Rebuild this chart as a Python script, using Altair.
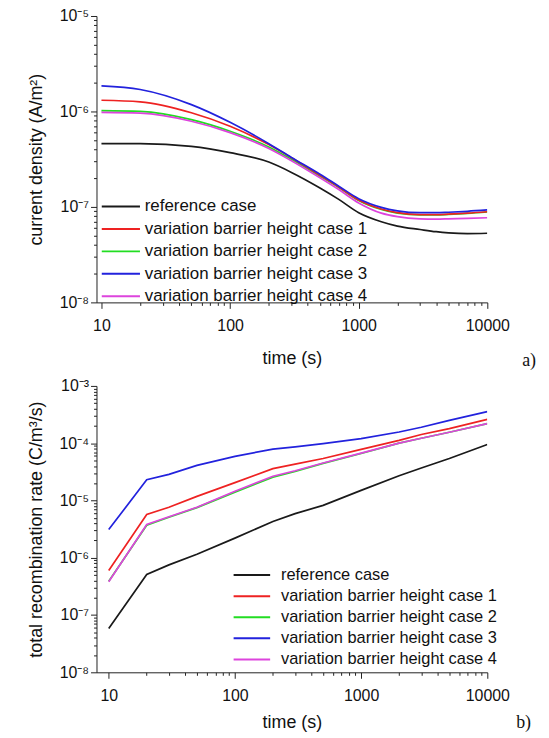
import altair as alt
import pandas as pd

series = ["reference case", "variation barrier height case 1", "variation barrier height case 2",
          "variation barrier height case 3", "variation barrier height case 4"]
colors = ["#1a1a1a", "#ee2222", "#22dd22", "#2222dd", "#dd44dd"]
draw_order = [0, 2, 1, 3, 4]

# (a) current density
t_top = [10, 20, 50, 100, 200, 300, 500, 700, 1000, 1500, 2000, 3000, 4000, 5000, 7000, 10000]
j_ref = [4.6e-7, 4.6e-7, 4.3e-7, 3.7e-7, 2.95e-7, 2.3e-7, 1.58e-7, 1.2e-7, 8.7e-8, 7.0e-8, 6.3e-8, 5.8e-8, 5.5e-8, 5.35e-8, 5.25e-8, 5.3e-8]
j_c1 = [1.31e-6, 1.26e-6, 9.7e-7, 7.0e-7, 4.5e-7, 3.28e-7, 2.15e-7, 1.62e-7, 1.18e-7, 9.5e-8, 8.7e-8, 8.3e-8, 8.3e-8, 8.4e-8, 8.6e-8, 8.9e-8]
j_c2 = [1.02e-6, 1.0e-6, 8.2e-7, 6.2e-7, 4.25e-7, 3.15e-7, 2.1e-7, 1.6e-7, 1.17e-7, 9.4e-8, 8.6e-8, 8.25e-8, 8.25e-8, 8.35e-8, 8.55e-8, 8.85e-8]
j_c3 = [1.85e-6, 1.7e-6, 1.18e-6, 7.7e-7, 4.6e-7, 3.3e-7, 2.2e-7, 1.65e-7, 1.22e-7, 9.9e-8, 9.1e-8, 8.7e-8, 8.7e-8, 8.8e-8, 9.0e-8, 9.3e-8]
j_c4 = [9.8e-7, 9.6e-7, 7.9e-7, 6.0e-7, 4.1e-7, 3.05e-7, 2.02e-7, 1.52e-7, 1.1e-7, 8.6e-8, 7.9e-8, 7.5e-8, 7.45e-8, 7.5e-8, 7.6e-8, 7.7e-8]

# (b) total recombination rate
t_bot = [10, 20, 30, 50, 100, 200, 300, 500, 1000, 2000, 3000, 5000, 10000]
r_ref = [5.8e-8, 5.1e-7, 7.5e-7, 1.15e-6, 2.2e-6, 4.3e-6, 5.9e-6, 8.2e-6, 1.5e-5, 2.7e-5, 3.7e-5, 5.4e-5, 9.5e-5]
r_c1 = [6.0e-7, 5.7e-6, 7.6e-6, 1.18e-5, 2.05e-5, 3.6e-5, 4.3e-5, 5.4e-5, 7.8e-5, 1.12e-4, 1.42e-4, 1.8e-4, 2.6e-4]
r_c2 = [3.9e-7, 3.7e-6, 5.1e-6, 7.5e-6, 1.4e-5, 2.55e-5, 3.2e-5, 4.45e-5, 6.6e-5, 1.0e-4, 1.22e-4, 1.55e-4, 2.2e-4]
r_c3 = [3.1e-6, 2.3e-5, 2.85e-5, 4.1e-5, 5.9e-5, 7.9e-5, 8.6e-5, 9.8e-5, 1.2e-4, 1.57e-4, 1.9e-4, 2.5e-4, 3.55e-4]
r_c4 = [3.8e-7, 3.8e-6, 5.2e-6, 7.6e-6, 1.45e-5, 2.65e-5, 3.3e-5, 4.5e-5, 6.7e-5, 1.0e-4, 1.22e-4, 1.55e-4, 2.2e-4]

x_ticks = [m * 10 ** e for e in range(1, 4) for m in range(1, 10)] + [10000]
y_ticks_top = [m * 10.0 ** e for e in range(-8, -5) for m in range(1, 10)] + [1e-5]
y_ticks_bot = [m * 10.0 ** e for e in range(-8, -3) for m in range(1, 10)] + [1e-3]


def frame(t, cols):
    rows = []
    for k in draw_order:
        for ti, v in zip(t, cols[k]):
            rows.append({"t": ti, "v": v, "s": series[k], "o": k})
    return pd.DataFrame(rows)


df_top = frame(t_top, [j_ref, j_c1, j_c2, j_c3, j_c4])
df_bot = frame(t_bot, [r_ref, r_c1, r_c2, r_c3, r_c4])

FONT = "Liberation Sans"
is_pow = "abs(log(datum.value)/LN10 - round(log(datum.value)/LN10)) < 1e-6"
sup = "['\u207b\u2078','\u207b\u2077','\u207b\u2076','\u207b\u2075','\u207b\u2074','\u207b\u00b3']"
tick_size = {"condition": {"test": is_pow, "value": 6}, "value": 3}


def panel(df, tmin, ydom, yticks, ytitle, interp, w, h, lg, tag, tag_dx, tag_off, x_lp, x_tp):
    common = dict(grid=False, labelFont=FONT, titleFont=FONT, labelFontSize=16, titleFontSize=18,
                  titleFontWeight="normal", domainColor="#222", tickColor="#222", labelColor="#111",
                  titleColor="#111", tickSize=tick_size)
    x_axis = alt.Axis(values=x_ticks, title="time (s)", labelExpr=f"{is_pow} ? format(datum.value, 'd') : ''",
                      labelPadding=x_lp, titlePadding=x_tp, labelFlush=False, **common)
    y_axis = alt.Axis(values=yticks, title=ytitle,
                      labelExpr=f"{is_pow} ? '10' + {sup}[round(log(datum.value)/LN10) + 8] : ''",
                      labelPadding=2, titlePadding=14, **common)
    legend = alt.Legend(orient="none", legendX=lg["x"], legendY=lg["y"], title=None, symbolType="M-3,0H3",
                        symbolSize=lg["size"], symbolStrokeWidth=2, labelOffset=lg["off"],
                        labelFontSize=lg["font"], labelFont=FONT, labelColor="#111", rowPadding=lg["pad"],
                        labelLimit=400)
    return alt.Chart(df, width=w, height=h,
                     title=alt.TitleParams(tag, orient="bottom", anchor="end", frame="group",
                                           font="Liberation Serif", fontSize=18, fontWeight="normal",
                                           color="#111", dx=tag_dx, offset=tag_off)).mark_line(
        strokeWidth=1.7, interpolate=interp, clip=True).encode(
        x=alt.X("t:Q", scale=alt.Scale(type="log", domain=[tmin, 10000], nice=False), axis=x_axis),
        y=alt.Y("v:Q", scale=alt.Scale(type="log", domain=ydom, nice=False), axis=y_axis),
        color=alt.Color("s:N", scale=alt.Scale(domain=series, range=colors), legend=legend),
        order=alt.Order("o:Q"),
        detail="s:N",
    )


top = panel(df_top, 9.15, [1e-8, 1e-5], y_ticks_top, "current density (A/m\u00b2)", "monotone",
            393, 288, {"x": 16, "y": 183, "size": 164, "off": 15.5, "pad": 4.6, "font": 17},
            "a)", 49, -15, 9, 16)
bot = panel(df_bot, 8.0, [1e-8, 1e-3], y_ticks_bot, "total recombination rate (C/m\u00b3/s)", "linear",
            393, 288, {"x": 148, "y": 182, "size": 150, "off": 21, "pad": 4.2, "font": 16.5},
            "b)", 44, -18, 9, 11)

chart = alt.vconcat(top, bot, spacing=8, background="white",
                    padding={"left": 19, "top": -2, "right": 5, "bottom": 0}).resolve_legend(
    color="independent").resolve_scale(color="independent").configure_view(strokeWidth=0)

chart.save("out.html", embed_options={"renderer": "svg", "actions": False})
